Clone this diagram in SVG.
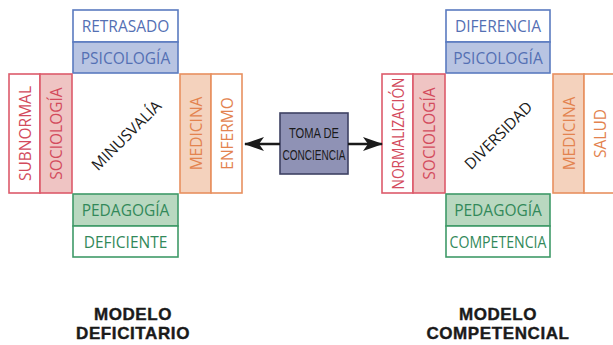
<svg xmlns="http://www.w3.org/2000/svg" width="613" height="345" viewBox="0 0 613 345">
<defs>
<style>
.lbl{font-family:"Open Sans","Liberation Sans",sans-serif;font-size:15.5px;text-anchor:middle;dominant-baseline:central}
.b rect{stroke:#5a7bc0;stroke-width:1.6}
.b text{fill:#5470b4}
.r rect{stroke:#dc5b6b;stroke-width:1.6}
.r text{fill:#d34b5d}
.o rect{stroke:#e8905f;stroke-width:1.6}
.o text{fill:#e3834f}
.g rect{stroke:#3f9a68;stroke-width:1.6}
.g text{fill:#32895a}
.w{fill:#ffffff}
.bf{fill:#b8c4e2}
.rf{fill:#efc4c3}
.of{fill:#f4d2bd}
.gf{fill:#b9d8c0}
.diag{font-family:"Open Sans","Liberation Sans",sans-serif;font-size:15.5px;fill:#1a1a1a;text-anchor:middle;dominant-baseline:central}
.title{font-family:"Liberation Sans",Arial,sans-serif;font-weight:700;font-size:17px;letter-spacing:0.6px;fill:#1a1a1a;text-anchor:middle;stroke:#1a1a1a;stroke-width:0.4}
</style>
<marker id="ah" viewBox="0 0 20 14" refX="19" refY="7" markerWidth="20" markerHeight="14" markerUnits="userSpaceOnUse" orient="auto-start-reverse">
<path d="M0,0 L20,7 L0,14 L5,7 Z" fill="#1a1a1a"/>
</marker>
</defs>
<rect width="613" height="345" fill="#ffffff"/>

<!-- Left model -->
<g id="retrasado" class="b"><rect class="w" x="73" y="10" width="105" height="32"/><text class="lbl" x="125.5" y="26">RETRASADO</text></g>
<g id="psicologia-l" class="b"><rect class="bf" x="73" y="42" width="105" height="31"/><text class="lbl" x="125.5" y="57.5">PSICOLOGÍA</text></g>
<g id="subnormal" class="r"><rect class="w" x="9" y="74" width="31" height="119"/><text class="lbl" transform="translate(24.5,133.5) rotate(-90)">SUBNORMAL</text></g>
<g id="sociologia-l" class="r"><rect class="rf" x="40" y="74" width="32" height="119"/><text class="lbl" transform="translate(56,133.5) rotate(-90)">SOCIOLOGÍA</text></g>
<g id="medicina-l" class="o"><rect class="of" x="180" y="74" width="31" height="119"/><text class="lbl" transform="translate(195.5,133.5) rotate(-90)">MEDICINA</text></g>
<g id="enfermo" class="o"><rect class="w" x="211" y="74" width="31" height="119"/><text class="lbl" transform="translate(226.5,133.5) rotate(-90)">ENFERMO</text></g>
<g id="pedagogia-l" class="g"><rect class="gf" x="73" y="194" width="105" height="32"/><text class="lbl" x="125.5" y="210">PEDAGOGÍA</text></g>
<g id="deficiente" class="g"><rect class="w" x="73" y="226" width="105" height="31"/><text class="lbl" x="125.5" y="241.5">DEFICIENTE</text></g>
<g id="minusvalia"><text class="diag" transform="translate(126,135) rotate(-45)">MINUSVALÍA</text></g>

<!-- Center -->
<g id="toma-de-conciencia">
<rect x="280" y="113" width="68" height="61" fill="#8f92b5" stroke="#3e4163" stroke-width="1.6"/>
<text font-family="'Liberation Sans',sans-serif" font-size="14" fill="#1a1a1a" text-anchor="middle" x="314" y="138" textLength="50" lengthAdjust="spacingAndGlyphs">TOMA DE</text>
<text font-family="'Liberation Sans',sans-serif" font-size="14" fill="#1a1a1a" text-anchor="middle" x="314" y="160" textLength="63" lengthAdjust="spacingAndGlyphs">CONCIENCIA</text>
</g>

<!-- Right model -->
<g id="diferencia" class="b"><rect class="w" x="446" y="10" width="104" height="32"/><text class="lbl" x="498" y="26">DIFERENCIA</text></g>
<g id="psicologia-r" class="b"><rect class="bf" x="446" y="42" width="104" height="31"/><text class="lbl" x="498" y="57.5">PSICOLOGÍA</text></g>
<g id="normalizacion" class="r"><rect class="w" x="382" y="74" width="31" height="119"/><text class="lbl" transform="translate(397.5,133.5) rotate(-90)" textLength="112" lengthAdjust="spacingAndGlyphs">NORMALIZACIÓN</text></g>
<g id="sociologia-r" class="r"><rect class="rf" x="413" y="74" width="32" height="119"/><text class="lbl" transform="translate(429,133.5) rotate(-90)">SOCIOLOGÍA</text></g>
<g id="medicina-r" class="o"><rect class="of" x="553" y="74" width="31" height="119"/><text class="lbl" transform="translate(568.5,133.5) rotate(-90)">MEDICINA</text></g>
<g id="salud" class="o"><rect class="w" x="584" y="74" width="32" height="119"/><text class="lbl" transform="translate(600,133.5) rotate(-90)">SALUD</text></g>
<g id="pedagogia-r" class="g"><rect class="gf" x="446" y="194" width="104" height="32"/><text class="lbl" x="498" y="210">PEDAGOGÍA</text></g>
<g id="competencia" class="g"><rect class="w" x="446" y="226" width="104" height="31"/><text class="lbl" x="498" y="241.5" textLength="97" lengthAdjust="spacingAndGlyphs">COMPETENCIA</text></g>
<g id="diversidad"><text class="diag" transform="translate(498,135) rotate(-45)">DIVERSIDAD</text></g>

<!-- Connectors -->
<g id="connectors" stroke="#1a1a1a" stroke-width="2.5" fill="none">
<line x1="280" y1="144" x2="245" y2="144" marker-end="url(#ah)"/>
<line x1="348" y1="144" x2="382" y2="144" marker-end="url(#ah)"/>
</g>

<!-- Titles -->
<g id="modelo-deficitario"><text class="title" x="133" y="319.5">MODELO</text><text class="title" x="133" y="338.5">DEFICITARIO</text></g>
<g id="modelo-competencial"><text class="title" x="498" y="319.5">MODELO</text><text class="title" x="498" y="338.5">COMPETENCIAL</text></g>
</svg>
